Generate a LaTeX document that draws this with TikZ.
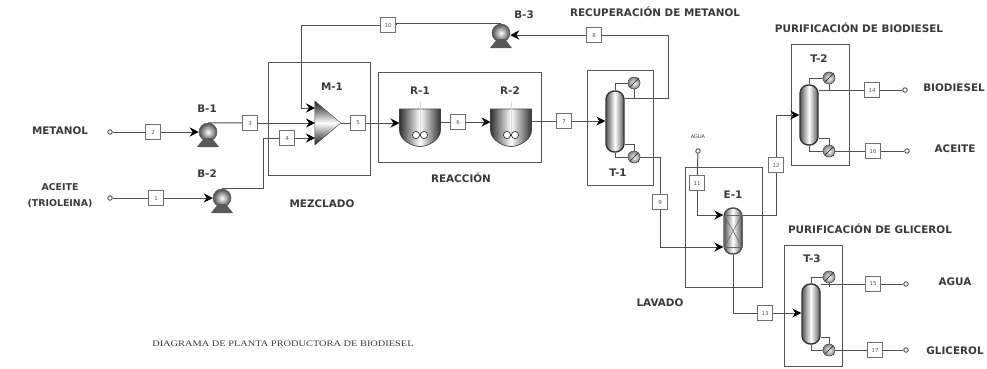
\documentclass[tikz,border=0pt]{standalone}
\usepackage{fontspec}
\setmainfont{DejaVu Sans}
\newfontfamily\captionfont[FakeStretch=1.22]{Liberation Serif}
\usepackage{xcolor}
\usetikzlibrary{positioning,arrows.meta,shapes.geometric,calc}
\definecolor{LineGrey}{HTML}{505050}
\definecolor{ZoneGrey}{HTML}{555555}
\definecolor{TextDark}{HTML}{3A3A3A}
\definecolor{BoxGrey}{HTML}{707070}
\begin{document}
\begin{tikzpicture}[x=1pt,y=-1pt,
    every node/.style={font=\bfseries\fontsize{10.4}{12}\selectfont,text=TextDark},
    ln/.style={LineGrey,line width=1pt},
    ar/.style={ln,-{Stealth[length=9pt,width=9pt,inset=3pt,black]}},
    zone/.style={draw=ZoneGrey,line width=0.9pt,inner sep=0pt},
    strm/.style={draw=BoxGrey,fill=white,line width=1pt,minimum size=15.5pt,inner sep=0pt,
                 font=\fontsize{5.5}{7}\selectfont,text=black!65},
    port/.style={draw=LineGrey,fill=white,circle,line width=0.9pt,minimum size=4.5pt,inner sep=0pt},
    pump/.style={circle,draw=black!65,line width=0.5pt,minimum size=18pt,inner sep=0pt,
                 inner color=white,outer color=black!70},
    column/.style={draw=black!80,line width=1.4pt,rounded corners=8.5pt,minimum width=18pt,inner sep=0pt,
                 left color=black!65,right color=black!65,middle color=white},
    exch/.style={circle,draw=black!70,line width=0.6pt,minimum size=12pt,inner sep=0pt,
                 inner color=white,outer color=black!50,
                 path picture={\draw[black!75,line width=1pt]
                   (path picture bounding box.south west)--(path picture bounding box.north east);}},
    tag/.style={inner sep=0pt},
    base/.pic={\fill[black!65] (-4,6) -- (4,6) -- (11,15) -- (-11,15) -- cycle;},
    reactor/.pic={
      \shade[draw=black!75,line width=0.7pt,left color=black!80,right color=black!80,middle color=white]
        (-20.5,-18) -- (20.5,-18) -- (20.5,3) .. controls (20.5,13) and (8,19.5) .. (0,19.5)
        .. controls (-8,19.5) and (-20.5,13) .. (-20.5,3) -- cycle;
      \draw[black!15,line width=0.6pt] (0,-25) -- (0,7);
      \draw[black!80,line width=0.7pt,fill=white] (-4,8) circle (3.6) (4,8) circle (3.6);
      \coordinate (-in) at (-20.5,-5);
      \coordinate (-out) at (20.5,-5);}]
  \useasboundingbox (0,0) rectangle (987,368);

  \node[zone,minimum width=102pt,minimum height=113pt] (zmez) at (319,118.5) {};
  \node[zone,minimum width=163pt,minimum height=90pt] (zrea) at (459.5,117) {};
  \node[zone,minimum width=66pt,minimum height=115pt] (zrec) at (620,127.5) {};
  \node[zone,minimum width=77pt,minimum height=120pt] (zlav) at (723.5,227) {};
  \node[zone,minimum width=58pt,minimum height=121pt] (zpb) at (820,104.5) {};
  \node[zone,minimum width=58pt,minimum height=121pt] (zpg) at (813,305.5) {};

  \node[port] (p2) at (110,132) {};
  \node[port] (p1) at (110,198) {};
  \node[strm] (s2) at (153,132) {2};
  \node[strm] (s1) at (156,198) {1};
  \node[pump] (b1) at (208,132) {};
  \pic at (b1) {base};
  \node[pump] (b2) at (222,198) {};
  \pic at (b2) {base};
  \node[pump] (b3) at (501,33) {};
  \pic at (b3) {base};
  \node[strm] (s3) at (250,123) {3};
  \node[strm] (s4) at (287,138) {4};
  \node[strm] (s5) at (358,123) {5};
  \node[strm] (s10) at (388,25) {10};
  \node[strm] (s8) at (594,35) {8};
  \node[strm] (s6) at (458,122) {6};
  \node[strm] (s7) at (564,121) {7};
  \node[strm] (s9) at (660,202) {9};
  \node[strm] (s11) at (697,183) {11};
  \node[strm] (s12) at (776,165) {12};
  \node[strm] (s13) at (765,313) {13};
  \node[strm] (s14) at (872,90) {14};
  \node[strm] (s16) at (873,151) {16};
  \node[strm] (s15) at (873,284) {15};
  \node[strm] (s17) at (875,350) {17};
  \node[port] (p14) at (905,90) {};
  \node[port] (p16) at (907,151) {};
  \node[port] (p15) at (906,284) {};
  \node[port] (p17) at (906,350) {};
  \node[port] (p11) at (698,151) {};

  \node[isosceles triangle,isosceles triangle apex angle=82,isosceles triangle stretches,
        minimum width=44pt,minimum height=26pt,inner sep=0pt,draw=black!75,
        top color=black!90,bottom color=black!90,middle color=white] (m1) at (325,123) {};
  \coordinate (m1a) at (315,108);
  \coordinate (m1b) at (315,123);
  \coordinate (m1c) at (315,138);
  \pic (r1) at (420,127) {reactor};
  \pic (r2) at (511,127) {reactor};

  \node[column,minimum height=61pt] (t1) at (615,121.5) {};
  \node[exch] (c1) at (634,83) {};
  \node[exch] (h1) at (634,157) {};
  \node[column,minimum height=60pt] (t2) at (809,115) {};
  \node[exch] (c2) at (829,78) {};
  \node[exch] (h2) at (829,151) {};
  \node[column,minimum height=60pt] (t3) at (811,314) {};
  \node[exch] (c3) at (829,277) {};
  \node[exch] (h3) at (829,350) {};
  \node[column,draw=black!70,minimum height=46pt] (e1) at (733,231) {};
  \node[draw=black!60,line width=0.6pt,minimum width=18pt,minimum height=32pt,inner sep=0pt,
        path picture={\draw[black!60,line width=0.6pt]
          (path picture bounding box.south west)--(path picture bounding box.north east)
          (path picture bounding box.north west)--(path picture bounding box.south east);}] (e1pack) at (733,231) {};
  \fill[black!70] (c1.north east) circle (0.9) (h1.south east) circle (0.9);
  \fill[black!70] (c2.north east) circle (0.9) (h2.south east) circle (0.9);
  \fill[black!70] (c3.north east) circle (0.9) (h3.south east) circle (0.9);

  \draw[ar] (p2) -- (s2) -- (b1);
  \draw[ar] (p1) -- (s1) -- (b2);
  \draw[ln] (b1.north) -- (s3);
  \draw[ar] (s3) -- (m1b);
  \draw[ln] (b2.north) -| (263,138) -- (s4);
  \draw[ar] (s4) -- (m1c);
  \draw[ln] (m1.apex) -- (s5);
  \draw[ar] (s5) -- (r1-in |- s5);
  \draw[ln] (b3.north) -- (s10.east |- b3.north) -- (s10.east);
  \draw[ln] (s10) -| (301,60);
  \draw[ar] (301,60) |- (m1a);
  \draw[ln] (r1-out |- s6) -- (s6);
  \draw[ar] (s6) -- (r2-in |- s6);
  \draw[ln] (r2-out |- s7) -- (s7);
  \draw[ar] (s7) -- (t1.west |- s7);
  \draw[ln] (t1.east |- 0,98) -| (668,35) -- (s8);
  \draw[ar] (s8) -- (b3.east |- s8);
  \draw[ln] (t1.north) |- (c1.west);
  \draw[ln] (c1.south) -- (634,98);
  \draw[ln] (t1.south) |- (h1.west);
  \draw[ln] (t1.east |- 0,144) -| (h1.north);
  \draw[ln] (h1.east) -| (s9);
  \draw[ln] (s9) |- (660,247);
  \draw[ar] (660,247) -- (e1.west |- 0,247);
  \draw[ln] (p11) -- (s11);
  \draw[ar] (s11) |- (e1.west |- 0,215);
  \draw[ln] (e1.east |- 0,215) -| (s12);
  \draw[ar] (s12) |- (t2.west |- 0,115);
  \draw[ln] (t2.north) |- (c2.west);
  \draw[ln] (c2.south) -- (829,90);
  \draw[ln] (t2.east |- s14) -- (s14) -- (p14);
  \draw[ln] (t2.south) |- (h2.west);
  \draw[ln] (t2.east |- 0,138) -| (h2.north);
  \draw[ln] (h2.east) -- (s16) -- (p16);
  \draw[ln] (e1.south) |- (s13);
  \draw[ar] (s13) -- (t3.west |- s13);
  \draw[ln] (t3.north) |- (c3.west);
  \draw[ln] (c3.south) -- (829,287);
  \draw[ln] (t3.east |- s15) -- (s15) -- (p15);
  \draw[ln] (t3.south) |- (h3.west);
  \draw[ln] (t3.east |- 0,337) -| (h3.north);
  \draw[ln] (h3.east) -- (s17) -- (p17);

  \node[tag] (lb1) at (207,109) {B-1};
  \node[tag] (lb2) at (207,174) {B-2};
  \node[tag] (lb3) at (524,15) {B-3};
  \node[tag] (lm1) at (332,87) {M-1};
  \node[tag] (lr1) at (420,91) {R-1};
  \node[tag] (lr2) at (510,91) {R-2};
  \node[tag] (lt1) at (618,173) {T-1};
  \node[tag] (lt2) at (819,59) {T-2};
  \node[tag] (lt3) at (812,259) {T-3};
  \node[tag] (le1) at (733,195) {E-1};
  \node[tag] (lmet) at (60,131) {METANOL};
  \node[tag,align=center,font=\bfseries\fontsize{9.4}{12}\selectfont] (lace) at (60,196) {ACEITE\\[4pt](TRIOLEINA)};
  \node[tag] (lmez) at (322,204) {MEZCLADO};
  \node[tag] (lrea) at (461,178) {REACCIÓN};
  \node[tag] (lrec) at (655,12) {RECUPERACIÓN DE METANOL};
  \node[tag] (lpb) at (859,28) {PURIFICACIÓN DE BIODIESEL};
  \node[tag] (lpg) at (870,229) {PURIFICACIÓN DE GLICEROL};
  \node[tag] (llav) at (660,303) {LAVADO};
  \node[tag] (lbio) at (954,88) {BIODIESEL};
  \node[tag] (lac2) at (955,149) {ACEITE};
  \node[tag] (lagu) at (955,282) {AGUA};
  \node[tag] (lgli) at (955,351) {GLICEROL};
  \node[tag,font=\fontsize{5}{6}\selectfont] (lag2) at (698,137) {AGUA};
  \node[tag,font=\captionfont\fontsize{8.5}{10}\selectfont] (ldia) at (283,344) {DIAGRAMA DE PLANTA PRODUCTORA DE BIODIESEL};
\end{tikzpicture}
\end{document}
